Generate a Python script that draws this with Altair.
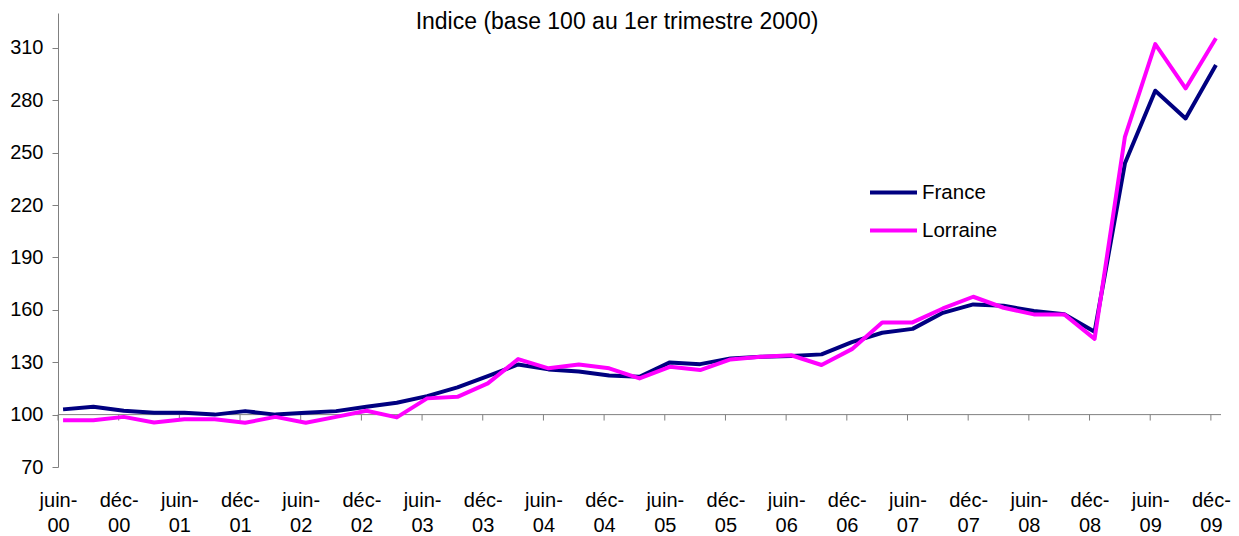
import altair as alt
import pandas as pd

# Quarterly index values (base 100 = 1st quarter 2000), from June 2000 to December 2009
france = [103, 104.5, 102.2, 101, 101, 100, 102, 100, 101, 102,
          104.5, 106.8, 110.6, 115.6, 122, 128.7, 125.9, 124.7, 122.4, 121.7,
          129.9, 128.9, 132.2, 133.1, 133.5, 134.5, 141.5, 146.9, 149.1, 158.3,
          163.1, 162.3, 159.3, 157.5, 147.4, 243.9, 285.5, 269.6, 300.2]
lorraine = [96.8, 96.8, 98.7, 95.5, 97.4, 97.4, 95.3, 98.7, 95.3, 98.7,
            102.2, 98.4, 109.3, 110.2, 117.9, 131.8, 126.5, 128.7, 126.5, 120.7,
            127.4, 125.5, 131.6, 133.1, 134, 128.4, 137.5, 152.8, 152.8, 160.8,
            167.5, 161.2, 157.4, 157.4, 143.4, 259.1, 312.2, 286.8, 315.5]
tick_labels = ["juin-00", "déc-00", "juin-01", "déc-01", "juin-02", "déc-02",
               "juin-03", "déc-03", "juin-04", "déc-04", "juin-05", "déc-05",
               "juin-06", "déc-06", "juin-07", "déc-07", "juin-08", "déc-08",
               "juin-09", "déc-09"]
y_ticks = [70, 100, 130, 160, 190, 220, 250, 280, 310]
title_text = "Indice (base 100 au 1er trimestre 2000)"

FONT = "Liberation Sans"

# months since June 2000 (mid-month of each quarter's last month)
month = [3 * i + 0.5 for i in range(len(france))]
rows = []
for m, f, l in zip(month, france, lorraine):
    rows.append({"m": m, "v": f, "serie": "France"})
    rows.append({"m": m, "v": l, "serie": "Lorraine"})
df = pd.DataFrame(rows)

tick_pos = [6 * i for i in range(len(tick_labels))]
ticks_df = pd.DataFrame({"m": tick_pos})

label_arr = "[" + ",".join(
    "['%s-','%s']" % tuple(t.split("-")) for t in tick_labels) + "]"
label_expr = label_arr + "[round(datum.value/6)]"

xscale = alt.Scale(domain=[0, 115], nice=False, zero=False)
yscale = alt.Scale(domain=[70, 330], nice=False, zero=False)

x_axis = alt.Axis(values=tick_pos, labelExpr=label_expr, domain=False, ticks=False,
                  grid=False, title=None, labelFont=FONT, labelFontSize=20,
                  labelColor="black", labelPadding=23, labelLineHeight=25,
                  labelAngle=0, labelBaseline="top", labelFlush=False)
y_axis = alt.Axis(values=y_ticks, grid=False, title=None, labelFont=FONT,
                  labelFontSize=20, labelColor="black", domainColor="#808080",
                  tickColor="#808080", tickSize=6, labelPadding=9)

lines = alt.Chart(df).mark_line(strokeWidth=4, strokeJoin="round").encode(
    x=alt.X("m:Q", scale=xscale, axis=x_axis),
    y=alt.Y("v:Q", scale=yscale, axis=y_axis),
    color=alt.Color("serie:N",
                    scale=alt.Scale(domain=["France", "Lorraine"],
                                    range=["#000080", "#FF00FF"]),
                    legend=alt.Legend(orient="none", legendX=810, legendY=154,
                                      title=None, symbolType="stroke",
                                      symbolSize=2209, symbolStrokeWidth=4,
                                      labelFont=FONT, labelFontSize=20.5,
                                      labelColor="black", labelOffset=3,
                                      rowPadding=2)),
)

# horizontal axis line crossing at 100
base_rule = alt.Chart(pd.DataFrame({"a": [0], "b": [115]})).mark_rule(
    color="#808080", strokeWidth=1).encode(
    x=alt.X("a:Q", scale=xscale), x2="b:Q", y=alt.datum(100))

tick_rules = alt.Chart(ticks_df).mark_rule(color="#808080", strokeWidth=1).encode(
    x=alt.X("m:Q", scale=xscale), y=alt.datum(100), y2=alt.datum(96.6))

title = alt.Chart(pd.DataFrame({"t": [title_text]})).mark_text(
    font=FONT, fontSize=23, color="black", align="center",
    baseline="alphabetic").encode(
    text="t:N", x=alt.value(559), y=alt.value(16))

chart = alt.layer(base_rule, tick_rules, lines, title).properties(
    width=1163, height=454,
    autosize=alt.AutoSizeParams(type="none"),
    padding={"left": 50, "top": 5, "right": 10, "bottom": 68},
).configure_view(stroke=None)

chart.save("out.html", embed_options={"renderer": "svg", "actions": False})
